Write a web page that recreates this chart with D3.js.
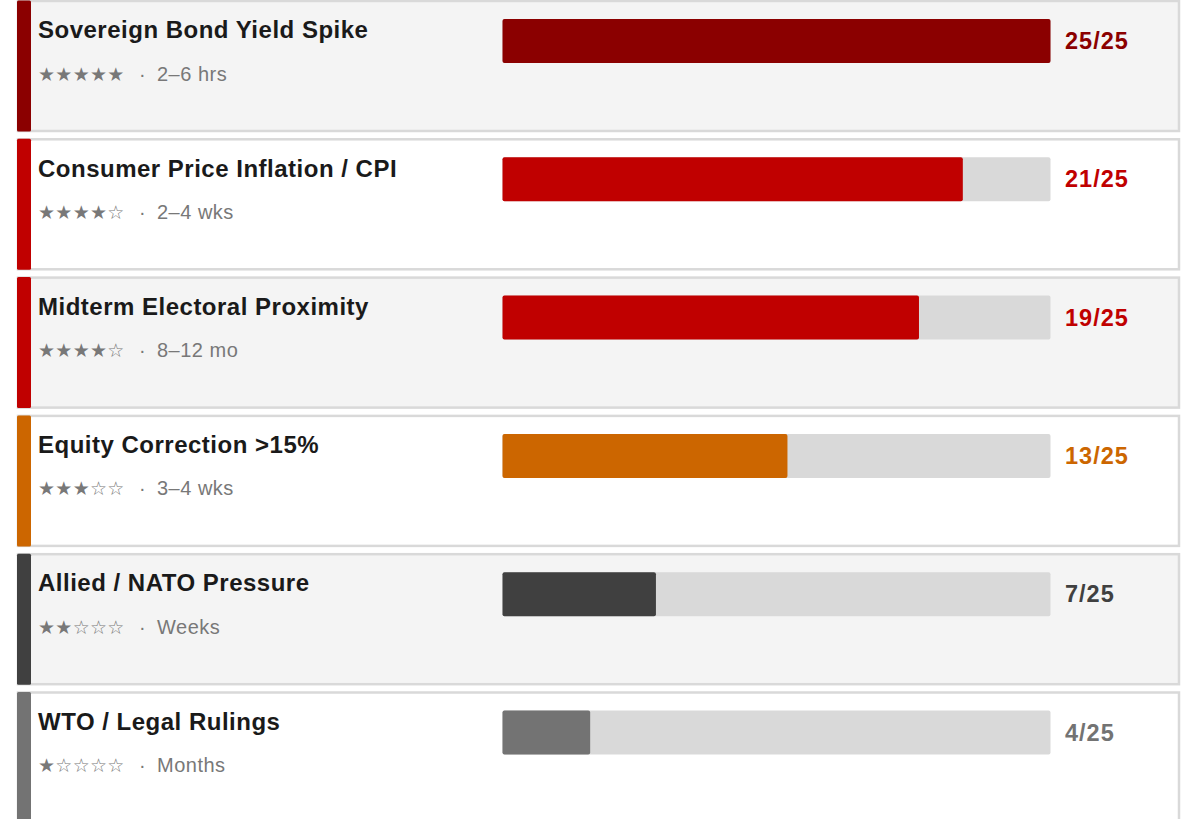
<!DOCTYPE html>
<html>
<head>
<meta charset="utf-8">
<script src="https://cdn.jsdelivr.net/npm/d3@7"></script>
<style>
  body { margin: 0; background: #ffffff; }
</style>
</head>
<body>
<div id="chart"></div>
<script>
// data
var drivers = ["Sovereign Bond Yield Spike", "Consumer Price Inflation / CPI", "Midterm Electoral Proximity",
  "Equity Correction >15%", "Allied / NATO Pressure", "WTO / Legal Rulings"];
var scores = [25, 21, 19, 13, 7, 4];
var stars = [5, 4, 4, 3, 2, 1];
var lags = ["2–6 hrs", "2–4 wks", "8–12 mo", "3–4 wks", "Weeks", "Months"];
var maxScore = 25;
var colors = ["#8b0000", "#c00000", "#c00000", "#cc6600", "#404040", "#737373"];

var font = "Arial, 'Liberation Sans', Helvetica, sans-serif";
var svgWidth = 1188;
var svgHeight = 819;
var rowStep = 138.3;
var cardH = 130;

var svg = d3.select("#chart")
  .append("svg")
  .attr("width", svgWidth)
  .attr("height", svgHeight)
  .style("display", "block");

var xScale = d3.scaleLinear()
  .domain([0, maxScore])
  .range([502.5, 1050.5]);

var rows = svg.selectAll("g.row")
  .data(drivers)
  .enter()
  .append("g")
  .attr("class", "row")
  .attr("transform", (d, i) => `translate(0, ${1 + i * rowStep})`);

// card background
rows.append("rect")
  .attr("x", 18)
  .attr("y", 0)
  .attr("width", 1161)
  .attr("height", cardH)
  .attr("fill", (d, i) => i % 2 === 0 ? "#f4f4f4" : "#ffffff")
  .attr("stroke", "#d9d9d9")
  .attr("stroke-width", 2.5);

// left accent
rows.append("rect")
  .attr("x", 17)
  .attr("y", -0.5)
  .attr("width", 14)
  .attr("height", cardH + 1)
  .attr("rx", 1.5)
  .attr("fill", (d, i) => colors[i]);

// title
rows.append("text")
  .attr("x", 38)
  .attr("y", 37.3)
  .attr("font-family", font)
  .attr("font-size", 24)
  .attr("font-weight", "bold")
  .attr("letter-spacing", 0.5)
  .attr("fill", "#1a1a1a")
  .text(d => d);

// stars + lag
var sub = rows.append("text")
  .attr("x", 38)
  .attr("y", 79.5)
  .attr("font-family", font)
  .attr("font-size", 20)
  .attr("letter-spacing", 0.5)
  .attr("fill", "#787878");

sub.append("tspan")
  .attr("font-family", "DejaVu Sans")
  .attr("font-size", 19)
  .attr("letter-spacing", 0.3)
  .text((d, i) => "★".repeat(stars[i]) + "☆".repeat(5 - stars[i]));

sub.append("tspan")
  .attr("x", 139)
  .text("·");

sub.append("tspan")
  .attr("x", 157)
  .text((d, i) => lags[i]);

// track
rows.append("rect")
  .attr("x", xScale(0))
  .attr("y", 18)
  .attr("width", xScale(maxScore) - xScale(0))
  .attr("height", 44)
  .attr("rx", 2)
  .attr("fill", "#d9d9d9");

// value bar
rows.append("rect")
  .attr("x", xScale(0))
  .attr("y", 18)
  .attr("width", (d, i) => xScale(scores[i]) - xScale(0))
  .attr("height", 44)
  .attr("rx", 2)
  .attr("fill", (d, i) => colors[i]);

// score label
rows.append("text")
  .attr("x", 1065)
  .attr("y", 48)
  .attr("font-family", font)
  .attr("font-size", 23.5)
  .attr("font-weight", "bold")
  .attr("letter-spacing", 1)
  .attr("fill", (d, i) => colors[i])
  .text((d, i) => `${scores[i]}/${maxScore}`);
</script>
</body>
</html>
